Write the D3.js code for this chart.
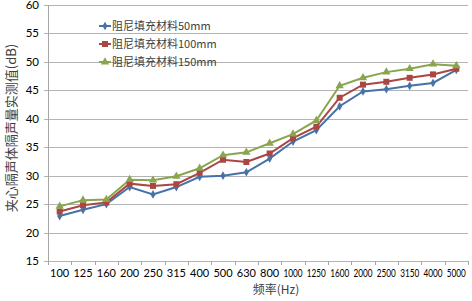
<!DOCTYPE html>
<html lang="zh">
<head>
<meta charset="UTF-8">
<title>频率 - 隔声量</title>
<script src="https://d3js.org/d3.v7.min.js"></script>
<style>
  body { margin: 0; background: #fff; }
  svg { display: block; }
</style>
</head>
<body>
<div id="chart"></div>
<script>
// categories and series
const freqs = ["100","125","160","200","250","315","400","500","630","800","1000","1250","1600","2000","2500","3150","4000","5000"];
const fill50  = [22.9,24.0,25.0,28.0,26.7,28.0,29.8,30.0,30.6,33.0,36.0,38.0,42.2,44.8,45.2,45.8,46.3,48.6];
const fill100 = [23.7,24.8,25.3,28.6,28.2,28.5,30.5,32.8,32.4,33.9,36.6,38.6,43.7,46.0,46.5,47.2,47.8,48.8];
const fill150 = [24.6,25.7,25.8,29.3,29.2,29.9,31.3,33.6,34.1,35.7,37.3,39.7,45.8,47.2,48.2,48.8,49.6,49.3];
const seriesNames = ["阻尼填充材料50mm","阻尼填充材料100mm","阻尼填充材料150mm"];
const yTicks = [15,20,25,30,35,40,45,50,55,60];

const series = [
  { name: seriesNames[0], values: fill50,  color: "#4572A7", marker: "diamond" },
  { name: seriesNames[1], values: fill100, color: "#AA4643", marker: "square" },
  { name: seriesNames[2], values: fill150, color: "#89A54E", marker: "triangle" }
];

const W = 472, H = 301;
const plot = { left: 48, right: 468, top: 5, bottom: 261 };

const svg = d3.select("#chart").append("svg")
  .attr("width", W).attr("height", H);

const x = d3.scaleBand().domain(freqs).range([plot.left, plot.right]).padding(0);
const y = d3.scaleLinear().domain([15, 60]).range([plot.bottom, plot.top]);
const cx = d => x(d) + x.bandwidth() / 2;

// gridlines
svg.append("g").selectAll("line").data(yTicks).enter().append("line")
  .attr("x1", plot.left - 4).attr("x2", plot.right)
  .attr("y1", d => Math.round(y(d)) + 0.5).attr("y2", d => Math.round(y(d)) + 0.5)
  .attr("stroke", "#b3b3b3").attr("stroke-width", 1);

// y axis line
svg.append("line")
  .attr("x1", plot.left + 0.5).attr("x2", plot.left + 0.5)
  .attr("y1", plot.top).attr("y2", plot.bottom)
  .attr("stroke", "#a6a6a6");

// y labels
svg.append("g").selectAll("text").data(yTicks).enter().append("text")
  .attr("x", 39).attr("y", d => y(d) + 4)
  .attr("text-anchor", "end")
  .attr("font-family", "Lato, 'Open Sans', sans-serif")
  .attr("font-size", 11.5).attr("fill", "#000")
  .text(d => d);

// x axis tick marks at band edges
const edges = freqs.map(f => x(f)).concat([plot.right]);
svg.append("g").selectAll("line").data(edges).enter().append("line")
  .attr("x1", d => Math.round(d) + 0.5).attr("x2", d => Math.round(d) + 0.5)
  .attr("y1", plot.bottom).attr("y2", plot.bottom + 4)
  .attr("stroke", "#a6a6a6");

// x labels
svg.append("g")
  .attr("transform", "translate(0," + plot.bottom + ")")
  .call(d3.axisBottom(x).tickSize(0).tickPadding(8))
  .call(g => g.select(".domain").remove())
  .selectAll("text")
  .attr("font-family", "Lato, 'Open Sans', sans-serif")
  .attr("font-size", 11).attr("fill", "#000")
  .each(function (d) {
    if (d.length > 3) d3.select(this).attr("textLength", 19).attr("lengthAdjust", "spacingAndGlyphs");
  });

// axis titles
svg.append("text")
  .attr("x", 276).attr("y", 294)
  .attr("text-anchor", "middle")
  .attr("font-family", "'Noto Sans CJK SC', sans-serif")
  .attr("font-size", 12).attr("fill", "#404040")
  .text("频率(Hz)");

svg.append("text")
  .attr("transform", "translate(10,128) rotate(-90)")
  .attr("text-anchor", "middle")
  .attr("dominant-baseline", "central")
  .attr("font-family", "'Noto Sans CJK SC', sans-serif")
  .attr("font-size", 13).attr("fill", "#404040")
  .text("夹心隔声体隔声量实测值(dB)");

// lines
const line = d3.line().x((d, i) => cx(freqs[i])).y(d => y(d));
series.forEach(s => {
  svg.append("path")
    .datum(s.values)
    .attr("d", line)
    .attr("fill", "none")
    .attr("stroke", s.color)
    .attr("stroke-width", 2);
});

// markers
const symbolType = { diamond: d3.symbolDiamond, square: d3.symbolSquare, triangle: d3.symbolTriangle };
const symbolSize = { diamond: 22, square: 36, triangle: 30 };
series.forEach(s => {
  svg.append("g").selectAll("path").data(s.values).enter().append("path")
    .attr("transform", (d, i) => "translate(" + cx(freqs[i]) + "," + y(d) + ")")
    .attr("d", d3.symbol().type(symbolType[s.marker]).size(symbolSize[s.marker]))
    .attr("fill", s.color);
});

// legend
const legend = svg.append("g");
series.forEach((s, i) => {
  const ly = 26 + i * 18;
  legend.append("line")
    .attr("x1", 99).attr("x2", 111).attr("y1", ly).attr("y2", ly)
    .attr("stroke", s.color).attr("stroke-width", 2);
  legend.append("path")
    .attr("transform", "translate(105," + ly + ")")
    .attr("d", d3.symbol().type(symbolType[s.marker]).size(symbolSize[s.marker]))
    .attr("fill", s.color);
  legend.append("text")
    .attr("x", 112).attr("y", ly + 4)
    .attr("font-family", "'Noto Sans CJK SC', sans-serif")
    .attr("font-size", 11).attr("fill", "#404040")
    .text(s.name);
});
</script>
</body>
</html>
